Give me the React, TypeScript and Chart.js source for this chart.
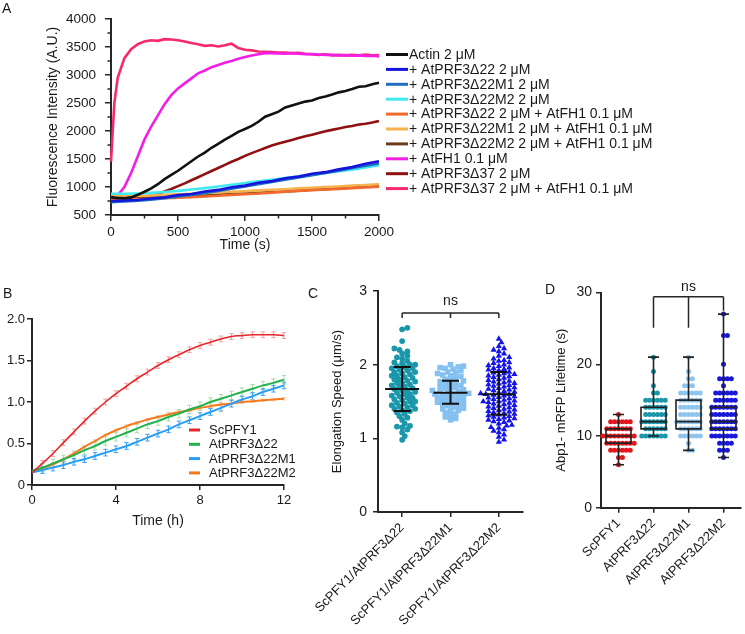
import React, { useEffect, useRef } from 'react';
import { Chart, registerables } from 'chart.js';

Chart.register(...registerables);

const FONT = '"Liberation Sans", Arial, Helvetica, sans-serif';
const AXIS = '#262626';
const TEXT = '#1a1a1a';
Chart.defaults.font.family = FONT;
Chart.defaults.color = TEXT;

// ================= Panel A data =================
const timeFineA = [0, 25, 50, 100, 150, 200, 250, 300, 350, 400, 450, 500, 550, 600, 650, 700, 750, 800, 850, 900, 950, 1000, 1050, 1100, 1150, 1200, 1250, 1300, 1350, 1400, 1450, 1500, 1550, 1600, 1650, 1700, 1750, 1800, 1850, 1900, 1950, 2000];
const timeCoarseA = [0, 100, 200, 300, 400, 500, 600, 700, 800, 900, 1000, 1100, 1200, 1300, 1400, 1500, 1600, 1700, 1800, 1900, 2000];

const actin = [820, 810, 805, 800, 815, 860, 915, 975, 1050, 1140, 1215, 1290, 1375, 1460, 1545, 1615, 1700, 1770, 1845, 1915, 1985, 2035, 2090, 2165, 2255, 2300, 2345, 2420, 2455, 2490, 2525, 2545, 2590, 2615, 2650, 2690, 2715, 2750, 2790, 2800, 2835, 2860];
const prfD22 = [750, 760, 768, 795, 815, 855, 876, 920, 948, 995, 1025, 1075, 1105, 1155, 1185, 1238, 1265, 1315, 1355, 1415, 1460];
const prfD22M1 = [730, 740, 755, 775, 800, 830, 860, 895, 930, 970, 1010, 1050, 1090, 1130, 1170, 1210, 1250, 1290, 1340, 1380, 1420];
const prfD22M2 = [880, 880, 885, 895, 910, 930, 955, 980, 1010, 1040, 1070, 1100, 1130, 1160, 1190, 1220, 1250, 1280, 1310, 1350, 1390];
const prfD22FH1 = [770, 775, 780, 790, 800, 810, 820, 830, 845, 860, 870, 885, 900, 915, 930, 945, 955, 965, 980, 990, 1005];
const prfD22M1FH1 = [840, 835, 840, 850, 860, 870, 880, 890, 905, 915, 925, 940, 950, 960, 975, 985, 1000, 1010, 1025, 1035, 1050];
const prfD22M2FH1 = [800, 795, 800, 810, 820, 830, 840, 850, 860, 875, 885, 895, 910, 920, 935, 950, 960, 975, 990, 1010, 1030];
const fh1Only = [800, 810, 850, 1000, 1250, 1550, 1850, 2080, 2280, 2480, 2640, 2760, 2850, 2940, 3030, 3080, 3140, 3180, 3220, 3250, 3290, 3320, 3350, 3370, 3390, 3390, 3385, 3380, 3390, 3380, 3370, 3375, 3365, 3360, 3360, 3350, 3355, 3345, 3350, 3340, 3345, 3330];
const prfD37 = [780, 780, 775, 780, 785, 795, 815, 845, 880, 920, 965, 1015, 1065, 1120, 1175, 1230, 1285, 1340, 1395, 1450, 1500, 1555, 1605, 1650, 1695, 1740, 1775, 1810, 1840, 1875, 1905, 1935, 1965, 1995, 2020, 2045, 2070, 2090, 2115, 2130, 2150, 2180];
const prfD37FH1 = [1450, 2500, 2950, 3300, 3460, 3550, 3600, 3620, 3610, 3640, 3635, 3620, 3600, 3570, 3550, 3520, 3530, 3510, 3530, 3560, 3480, 3450, 3440, 3420, 3415, 3410, 3400, 3400, 3390, 3395, 3380, 3370, 3360, 3370, 3350, 3360, 3350, 3360, 3350, 3365, 3350, 3355];

const labelsA = [
  'Actin 2 μM',
  '+ AtPRF3Δ22 2 μM',
  '+ AtPRF3Δ22M1 2 μM',
  '+ AtPRF3Δ22M2 2 μM',
  '+ AtPRF3Δ22 2 μM + AtFH1 0.1 μM',
  '+ AtPRF3Δ22M1 2 μM + AtFH1 0.1 μM',
  '+ AtPRF3Δ22M2 2 μM + AtFH1 0.1 μM',
  '+ AtFH1 0.1 μM',
  '+ AtPRF3Δ37 2 μM',
  '+ AtPRF3Δ37 2 μM + AtFH1 0.1 μM',
];
const colorsA = ['#111111', '#1414dc', '#1f6fbf', '#40eaf0', '#f26a2e', '#f6b24c', '#6b3b1b', '#f21ee6', '#8e1010', '#f7286f'];
const valuesA = [actin, prfD22, prfD22M1, prfD22M2, prfD22FH1, prfD22M1FH1, prfD22M2FH1, fh1Only, prfD37, prfD37FH1];
const timesA = [timeFineA, timeCoarseA, timeCoarseA, timeCoarseA, timeCoarseA, timeCoarseA, timeCoarseA, timeFineA, timeFineA, timeFineA];
const xTicksA = [0, 500, 1000, 1500, 2000];
const yTicksA = [500, 1000, 1500, 2000, 2500, 3000, 3500, 4000];

// ================= Panel B data =================
const timeB = [0, 0.5, 1, 1.5, 2, 2.5, 3, 3.5, 4, 4.5, 5, 5.5, 6, 6.5, 7, 7.5, 8, 8.5, 9, 9.5, 10, 10.5, 11, 11.5, 12];
const scPFY1B = [0.15, 0.26, 0.38, 0.51, 0.64, 0.77, 0.89, 1.0, 1.1, 1.19, 1.28, 1.36, 1.44, 1.51, 1.57, 1.63, 1.68, 1.72, 1.76, 1.79, 1.8, 1.81, 1.81, 1.81, 1.8];
const d22B = [0.17, 0.21, 0.26, 0.31, 0.36, 0.42, 0.47, 0.53, 0.58, 0.63, 0.68, 0.73, 0.77, 0.82, 0.86, 0.91, 0.95, 1.0, 1.04, 1.08, 1.12, 1.16, 1.2, 1.23, 1.27];
const d22M1B = [0.15, 0.18, 0.21, 0.24, 0.28, 0.31, 0.35, 0.39, 0.43, 0.47, 0.52, 0.57, 0.62, 0.67, 0.73, 0.78, 0.83, 0.88, 0.93, 0.98, 1.03, 1.07, 1.12, 1.16, 1.2];
const d22M2B = [0.15, 0.2, 0.25, 0.31, 0.38, 0.46, 0.53, 0.6, 0.66, 0.71, 0.75, 0.79, 0.82, 0.85, 0.88, 0.9, 0.93, 0.95, 0.97, 0.98, 1.0, 1.01, 1.02, 1.03, 1.04];
const errB = [0.035, 0.05, 0.04, 0.015];
const labelsB = ['ScPFY1', 'AtPRF3Δ22', 'AtPRF3Δ22M1', 'AtPRF3Δ22M2'];
const colorsB = ['#e8262a', '#22b24c', '#2a9df4', '#f47a20'];
const errColorsB = ['#f4a0a0', '#a6dca6', '#3a9ff0', '#f9cfa6'];
const seriesB = [scPFY1B, d22B, d22M1B, d22M2B];

// ================= Panel C data =================
const catsC = ['ScPFY1/AtPRF3Δ22', 'ScPFY1/AtPRF3Δ22M1', 'ScPFY1/AtPRF3Δ22M2'];
const speedD22 = [2.5, 2.48, 2.32, 2.22, 2.2, 2.18, 2.15, 2.12, 2.1, 2.08, 2.05, 2.03, 2.02, 2.0, 2.0, 1.98, 1.97, 1.95, 1.95, 1.93, 1.92, 1.9, 1.9, 1.88, 1.87, 1.85, 1.85, 1.83, 1.82, 1.8, 1.8, 1.78, 1.77, 1.75, 1.75, 1.73, 1.72, 1.7, 1.7, 1.68, 1.67, 1.65, 1.65, 1.63, 1.62, 1.6, 1.6, 1.58, 1.57, 1.55, 1.55, 1.53, 1.52, 1.5, 1.5, 1.48, 1.47, 1.45, 1.45, 1.43, 1.42, 1.4, 1.4, 1.38, 1.37, 1.35, 1.33, 1.3, 1.28, 1.25, 1.2, 1.17, 1.16, 1.15, 1.12, 1.08, 1.03, 0.98];
const speedD22M1 = [2.0, 1.98, 1.97, 1.96, 1.95, 1.94, 1.92, 1.9, 1.89, 1.88, 1.86, 1.85, 1.84, 1.82, 1.8, 1.79, 1.78, 1.77, 1.75, 1.74, 1.73, 1.72, 1.7, 1.69, 1.68, 1.67, 1.66, 1.65, 1.64, 1.63, 1.62, 1.61, 1.6, 1.6, 1.59, 1.58, 1.57, 1.56, 1.55, 1.54, 1.53, 1.52, 1.51, 1.5, 1.49, 1.48, 1.47, 1.46, 1.45, 1.44, 1.42, 1.41, 1.4, 1.38, 1.37, 1.35, 1.33, 1.31, 1.29, 1.27, 1.25];
const speedD22M2 = [2.35, 2.3, 2.25, 2.22, 2.2, 2.18, 2.15, 2.12, 2.1, 2.08, 2.06, 2.05, 2.03, 2.02, 2.0, 1.99, 1.98, 1.96, 1.95, 1.94, 1.93, 1.92, 1.9, 1.89, 1.88, 1.87, 1.86, 1.85, 1.84, 1.83, 1.82, 1.8, 1.79, 1.78, 1.77, 1.76, 1.75, 1.74, 1.73, 1.72, 1.71, 1.7, 1.69, 1.68, 1.67, 1.66, 1.65, 1.64, 1.63, 1.62, 1.61, 1.6, 1.6, 1.59, 1.58, 1.57, 1.56, 1.55, 1.54, 1.53, 1.52, 1.51, 1.5, 1.5, 1.49, 1.48, 1.47, 1.46, 1.45, 1.44, 1.43, 1.42, 1.41, 1.4, 1.39, 1.38, 1.37, 1.36, 1.35, 1.34, 1.33, 1.32, 1.31, 1.3, 1.29, 1.28, 1.27, 1.26, 1.25, 1.24, 1.23, 1.22, 1.2, 1.18, 1.17, 1.15, 1.14, 1.12, 1.1, 1.08, 1.05, 1.02, 0.98, 0.95];
const meanC = [1.67, 1.62, 1.6];
const sdLowC = [1.37, 1.47, 1.32];
const sdHighC = [1.97, 1.78, 1.9];
const colorsC = ['#1a97aa', '#85c1f0', '#1515e6'];
const stylesC = ['circle', 'rect', 'triangle'];
const radiiC = [2.9, 3.9, 3.6];
const yTicksC = [0, 1, 2, 3];

// ================= Panel D data =================
const catsD = ['ScPFY1', 'AtPRF3Δ22', 'AtPRF3Δ22M1', 'AtPRF3Δ22M2'];
const secondsD = [6, 7, 8, 9, 10, 11, 12, 13, 14, 15, 16, 17, 18, 19, 20, 21, 22, 23, 24, 25, 26, 27];
const countsScPFY1 = [1, 2, 6, 8, 9, 7, 6, 1, 0, 0, 0, 0, 0, 0, 0, 0, 0, 0, 0, 0, 0, 0];
const countsD22 = [0, 0, 0, 0, 7, 6, 7, 6, 6, 6, 2, 1, 0, 1, 0, 1, 0, 0, 0, 0, 0, 0];
const countsD22M1 = [0, 0, 2, 1, 6, 6, 7, 6, 6, 6, 6, 3, 2, 1, 0, 1, 0, 0, 0, 0, 0, 0];
const countsD22M2 = [0, 1, 3, 4, 7, 7, 7, 7, 7, 6, 6, 1, 4, 0, 1, 0, 0, 0, 2, 0, 0, 1];
const boxMinD = [6, 10, 8, 7];
const boxQ1D = [9, 11, 11, 11];
const boxMedD = [10, 12, 12, 12];
const boxQ3D = [11, 14, 15, 14];
const boxMaxD = [13, 21, 21, 27];
const colorsD = ['#e3151d', '#1a97aa', '#8cc5f0', '#1818d8'];
const yTicksD = [0, 10, 20, 30];

// ================= helpers =================
function axisBase(size: number, pad: number, tickLen = 5) {
  return {
    grid: { display: true, drawOnChartArea: false, drawTicks: true, tickLength: tickLen, color: AXIS, lineWidth: 1.5 },
    border: { display: true, color: AXIS, width: 2 },
    ticks: { color: TEXT, font: { family: FONT, size }, padding: pad, callback: (v: number) => String(v) },
  };
}

function swarmOffsets(values: number[], pxPerY: number, diam: number, minDistFactor: number): number[] {
  const order = values.map((_, i) => i).sort((a, b) => values[a] - values[b]);
  const placed: { x: number; y: number }[] = [];
  const out = new Array(values.length).fill(0);
  const minD2 = (diam * minDistFactor) ** 2;
  for (const i of order) {
    const y = values[i] * pxPerY;
    let chosen = 0;
    for (let k = 0; k < 400; k++) {
      const cand = k === 0 ? 0 : (k % 2 === 1 ? 1 : -1) * Math.ceil(k / 2) * diam * 0.5;
      let ok = true;
      for (const p of placed) {
        const dx = p.x - cand;
        const dy = p.y - y;
        if (dx * dx + dy * dy < minD2) { ok = false; break; }
      }
      if (ok) { chosen = cand; break; }
    }
    placed.push({ x: chosen, y });
    out[i] = chosen;
  }
  return out;
}

function expandCounts(counts: number[]): number[] {
  const out: number[] = [];
  counts.forEach((c, i) => { for (let k = 0; k < c; k++) out.push(secondsD[i]); });
  return out;
}

function legendPlugin(id: string, labels: string[], colors: string[], g: any) {
  return {
    id,
    afterDraw(chart: any) {
      const ctx = chart.ctx;
      ctx.save();
      ctx.font = `${g.font}px ${FONT}`;
      ctx.textBaseline = 'middle';
      ctx.textAlign = 'left';
      labels.forEach((lab, i) => {
        const y = g.y0 + i * g.dy;
        ctx.strokeStyle = colors[i];
        ctx.lineWidth = g.lw;
        ctx.lineCap = 'butt';
        ctx.beginPath();
        ctx.moveTo(g.x0, y);
        ctx.lineTo(g.x1, y);
        ctx.stroke();
        ctx.fillStyle = TEXT;
        ctx.fillText(lab, g.tx, y + 0.5);
      });
      ctx.restore();
    },
  };
}

function bracketPlugin(id: string, cats: number[], yLine: number, drops: number[], textY: number) {
  return {
    id,
    afterDraw(chart: any) {
      const { ctx } = chart;
      const x = chart.scales.x;
      ctx.save();
      ctx.strokeStyle = AXIS;
      ctx.lineWidth = 1.5;
      ctx.beginPath();
      const x0 = x.getPixelForValue(cats[0]);
      const x1 = x.getPixelForValue(cats[cats.length - 1]);
      ctx.moveTo(x0, yLine);
      ctx.lineTo(x1, yLine);
      cats.forEach((c, i) => {
        const px = x.getPixelForValue(c);
        ctx.moveTo(px, yLine);
        ctx.lineTo(px, yLine + drops[i]);
      });
      ctx.stroke();
      ctx.fillStyle = TEXT;
      ctx.font = `14px ${FONT}`;
      ctx.textAlign = 'center';
      ctx.textBaseline = 'middle';
      ctx.fillText('ns', (x0 + x1) / 2, textY);
      ctx.restore();
    },
  };
}

// ================= configs =================
function configA(): any {
  const datasets = valuesA.map((vals, i) => ({
    label: labelsA[i],
    data: vals.map((v, j) => ({ x: timesA[i][j], y: v })),
    borderColor: colorsA[i],
    backgroundColor: colorsA[i],
    borderWidth: 2.6,
    pointRadius: 0,
    tension: 0,
    fill: false,
    clip: false,
  }));
  const minorTicks = {
    id: 'minorA',
    afterDraw(chart: any) {
      const { ctx, chartArea: ca } = chart;
      const x = chart.scales.x;
      const y = chart.scales.y;
      ctx.save();
      ctx.strokeStyle = AXIS;
      ctx.lineWidth = 1.5;
      ctx.beginPath();
      for (let k = 0; k < xTicksA.length - 1; k++) {
        const px = x.getPixelForValue((xTicksA[k] + xTicksA[k + 1]) / 2);
        ctx.moveTo(px, ca.bottom);
        ctx.lineTo(px, ca.bottom + 3.5);
      }
      for (let k = 0; k < yTicksA.length - 1; k++) {
        const py = y.getPixelForValue((yTicksA[k] + yTicksA[k + 1]) / 2);
        ctx.moveTo(ca.left, py);
        ctx.lineTo(ca.left - 3.5, py);
      }
      ctx.stroke();
      ctx.restore();
    },
  };
  const xb = axisBase(13.5, 3, 6);
  const yb = axisBase(13.5, 9, 6);
  return {
    type: 'line',
    data: { datasets },
    options: {
      animation: false,
      responsive: false,
      maintainAspectRatio: false,
      layout: { padding: { left: 0, top: 19, right: 366, bottom: 0 } },
      plugins: { legend: { display: false }, tooltip: { enabled: false } },
      scales: {
        x: {
          type: 'linear', min: 0, max: 2000,
          ...xb,
          afterBuildTicks: (s: any) => { s.ticks = xTicksA.map((v) => ({ value: v })); },
          title: { display: true, text: 'Time (s)', color: TEXT, font: { family: FONT, size: 14 }, padding: { top: 0, bottom: 16 } },
          afterFit: (s: any) => { s.height = 55; s.paddingLeft = 0; s.paddingRight = 0; },
        },
        y: {
          type: 'linear', min: 500, max: 4000,
          ...yb,
          afterBuildTicks: (s: any) => { s.ticks = yTicksA.map((v) => ({ value: v })); },
          title: { display: true, text: 'Fluorescence Intensity (A.U.)', color: TEXT, font: { family: FONT, size: 14 }, padding: { top: 45, bottom: 0 } },
          afterFit: (s: any) => { s.width = 111; s.paddingTop = 0; s.paddingBottom = 0; },
        },
      },
    },
    plugins: [minorTicks, legendPlugin('legA', labelsA, colorsA, { x0: 386, x1: 408, tx: 409, y0: 54.5, dy: 14.9, font: 14, lw: 3 })],
  };
}

function configB(): any {
  const datasets = seriesB.map((vals, i) => ({
    label: labelsB[i],
    data: vals.map((v, j) => ({ x: timeB[j], y: v })),
    borderColor: colorsB[i],
    borderWidth: i === 0 ? 1.6 : 2,
    pointRadius: 0,
    cubicInterpolationMode: 'monotone',
    fill: false,
    clip: false,
  }));
  const errorBars = {
    id: 'errB',
    beforeDatasetsDraw(chart: any) {
      const { ctx } = chart;
      const x = chart.scales.x;
      const y = chart.scales.y;
      ctx.save();
      ctx.lineWidth = 1;
      seriesB.forEach((vals, si) => {
        const e = errB[si];
        ctx.strokeStyle = errColorsB[si];
        ctx.beginPath();
        vals.forEach((v, i) => {
          if (i === 0) return;
          const px = x.getPixelForValue(timeB[i]);
          const top = y.getPixelForValue(v + e);
          const bot = y.getPixelForValue(v - e);
          ctx.moveTo(px, top); ctx.lineTo(px, bot);
          ctx.moveTo(px - 2.2, top); ctx.lineTo(px + 2.2, top);
          ctx.moveTo(px - 2.2, bot); ctx.lineTo(px + 2.2, bot);
        });
        ctx.stroke();
      });
      ctx.restore();
    },
  };
  return {
    type: 'line',
    data: { datasets },
    options: {
      animation: false,
      responsive: false,
      maintainAspectRatio: false,
      layout: { padding: { left: 0, top: 29, right: 16, bottom: 0 } },
      plugins: { legend: { display: false }, tooltip: { enabled: false } },
      scales: {
        x: {
          type: 'linear', min: 0, max: 12,
          ...axisBase(13, 3),
          afterBuildTicks: (s: any) => { s.ticks = [0, 4, 8, 12].map((v) => ({ value: v })); },
          title: { display: true, text: 'Time (h)', color: TEXT, font: { family: FONT, size: 14 }, padding: { top: 0, bottom: 10 } },
          afterFit: (s: any) => { s.height = 55; s.paddingLeft = 0; s.paddingRight = 0; },
        },
        y: {
          type: 'linear', min: 0, max: 2,
          ...axisBase(13, 2),
          afterBuildTicks: (s: any) => { s.ticks = [0, 0.5, 1, 1.5, 2].map((v) => ({ value: v })); },
          ticks: { color: TEXT, font: { family: FONT, size: 13 }, padding: 2, callback: (v: number) => (v === 0 ? '0' : v.toFixed(1)) },
          afterFit: (s: any) => { s.width = 32; s.paddingTop = 0; s.paddingBottom = 0; },
        },
      },
    },
    plugins: [errorBars, legendPlugin('legB', labelsB, colorsB, { x0: 189, x1: 200, tx: 209, y0: 140, dy: 14.3, font: 13, lw: 3 })],
  };
}

function configC(): any {
  const plotW = 145;
  const plotH = 221;
  const cats = [speedD22, speedD22M1, speedD22M2];
  const datasets = cats.map((vals, ci) => {
    const offs = swarmOffsets(vals, plotH / 3, 5.2, ci === 2 ? 0.8 : 0.85);
    return {
      label: catsC[ci],
      data: vals.map((v, i) => ({ x: ci + offs[i] / (plotW / 3), y: v })),
      pointStyle: stylesC[ci],
      pointRadius: radiiC[ci],
      backgroundColor: colorsC[ci],
      borderWidth: 0,
      clip: false,
    };
  });
  const meanSd = {
    id: 'meanSd',
    afterDatasetsDraw(chart: any) {
      const { ctx } = chart;
      const x = chart.scales.x;
      const y = chart.scales.y;
      ctx.save();
      ctx.strokeStyle = '#111';
      ctx.lineWidth = 2;
      ctx.beginPath();
      meanC.forEach((m, i) => {
        const cx = x.getPixelForValue(i);
        const ym = y.getPixelForValue(m);
        const yl = y.getPixelForValue(sdLowC[i]);
        const yh = y.getPixelForValue(sdHighC[i]);
        ctx.moveTo(cx - 17, ym); ctx.lineTo(cx + 17, ym);
        ctx.moveTo(cx, yl); ctx.lineTo(cx, yh);
        ctx.moveTo(cx - 8.5, yl); ctx.lineTo(cx + 8.5, yl);
        ctx.moveTo(cx - 8.5, yh); ctx.lineTo(cx + 8.5, yh);
      });
      ctx.stroke();
      ctx.restore();
    },
  };
  return {
    type: 'scatter',
    data: { datasets },
    options: {
      animation: false,
      responsive: false,
      maintainAspectRatio: false,
      layout: { padding: { left: 0, top: 11, right: 7, bottom: 0 } },
      plugins: { legend: { display: false }, tooltip: { enabled: false } },
      scales: {
        x: {
          type: 'linear', min: -0.5, max: 2.5,
          ...axisBase(13, 3),
          afterBuildTicks: (s: any) => { s.ticks = catsC.map((_, i) => ({ value: i })); },
          ticks: { color: TEXT, font: { family: FONT, size: 13 }, padding: 3, autoSkip: false, minRotation: 45, maxRotation: 45, callback: (v: number) => catsC[Math.round(v)] },
          afterFit: (s: any) => { s.height = 122; s.paddingLeft = 0; s.paddingRight = 0; },
        },
        y: {
          type: 'linear', min: 0, max: 3,
          ...axisBase(14, 6),
          afterBuildTicks: (s: any) => { s.ticks = yTicksC.map((v) => ({ value: v })); },
          title: { display: true, text: 'Elongation Speed (μm/s)', color: TEXT, font: { family: FONT, size: 13 }, padding: { top: 30, bottom: 0 } },
          afterFit: (s: any) => { s.width = 78; s.paddingTop = 0; s.paddingBottom = 0; },
        },
      },
    },
    plugins: [meanSd, bracketPlugin('brC', [0, 1, 2], 33, [5, 5, 5], 21)],
  };
}

function configD(): any {
  const plotW = 143;
  const plotH = 215;
  const cats = [countsScPFY1, countsD22, countsD22M1, countsD22M2].map(expandCounts);
  const datasets = cats.map((vals, ci) => {
    const offs = swarmOffsets(vals, plotH / 30, 4, 1);
    return {
      label: catsD[ci],
      data: vals.map((v, i) => ({ x: ci + offs[i] / (plotW / 4), y: v })),
      pointStyle: 'circle',
      pointRadius: 2.5,
      backgroundColor: colorsD[ci],
      borderWidth: 0,
      clip: false,
    };
  });
  const boxes = {
    id: 'boxD',
    afterDatasetsDraw(chart: any) {
      const { ctx } = chart;
      const x = chart.scales.x;
      const y = chart.scales.y;
      ctx.save();
      ctx.strokeStyle = '#222';
      ctx.lineWidth = 1.6;
      catsD.forEach((_, i) => {
        const cx = x.getPixelForValue(i);
        const yMin = y.getPixelForValue(boxMinD[i]);
        const yQ1 = y.getPixelForValue(boxQ1D[i]);
        const yMed = y.getPixelForValue(boxMedD[i]);
        const yQ3 = y.getPixelForValue(boxQ3D[i]);
        const yMax = y.getPixelForValue(boxMaxD[i]);
        ctx.beginPath();
        ctx.rect(cx - 12.5, yQ3, 25, yQ1 - yQ3);
        ctx.moveTo(cx - 12.5, yMed); ctx.lineTo(cx + 12.5, yMed);
        ctx.moveTo(cx, yQ3); ctx.lineTo(cx, yMax);
        ctx.moveTo(cx, yQ1); ctx.lineTo(cx, yMin);
        ctx.moveTo(cx - 5.5, yMax); ctx.lineTo(cx + 5.5, yMax);
        ctx.moveTo(cx - 5.5, yMin); ctx.lineTo(cx + 5.5, yMin);
        ctx.stroke();
      });
      ctx.restore();
    },
  };
  return {
    type: 'scatter',
    data: { datasets },
    options: {
      animation: false,
      responsive: false,
      maintainAspectRatio: false,
      layout: { padding: { left: 0, top: 12.6, right: 1, bottom: 0 } },
      plugins: { legend: { display: false }, tooltip: { enabled: false } },
      scales: {
        x: {
          type: 'linear', min: -0.5, max: 3.5,
          ...axisBase(13, 3),
          afterBuildTicks: (s: any) => { s.ticks = catsD.map((_, i) => ({ value: i })); },
          ticks: { color: TEXT, font: { family: FONT, size: 13 }, padding: 3, autoSkip: false, minRotation: 45, maxRotation: 45, callback: (v: number) => catsD[Math.round(v)] },
          afterFit: (s: any) => { s.height = 126.3; s.paddingLeft = 0; s.paddingRight = 0; },
        },
        y: {
          type: 'linear', min: 0, max: 30,
          ...axisBase(14, 4),
          afterBuildTicks: (s: any) => { s.ticks = yTicksD.map((v) => ({ value: v })); },
          title: { display: true, text: 'Abp1- mRFP Lifetime (s)', color: TEXT, font: { family: FONT, size: 13 }, padding: { top: 24, bottom: 0 } },
          afterFit: (s: any) => { s.width = 71; s.paddingTop = 0; s.paddingBottom = 0; },
        },
      },
    },
    plugins: [boxes, bracketPlugin('brD', [1, 2, 3], 16.7, [31, 31, 14], 7)],
  };
}

const letterStyle = (left: number, top: number): React.CSSProperties => ({
  position: 'absolute', left, top, fontSize: 14, lineHeight: '14px', fontFamily: FONT, color: TEXT,
});

export default function App() {
  const refA = useRef<HTMLCanvasElement>(null);
  const refB = useRef<HTMLCanvasElement>(null);
  const refC = useRef<HTMLCanvasElement>(null);
  const refD = useRef<HTMLCanvasElement>(null);

  useEffect(() => {
    const charts = [
      new Chart(refA.current as HTMLCanvasElement, configA()),
      new Chart(refB.current as HTMLCanvasElement, configB()),
      new Chart(refC.current as HTMLCanvasElement, configC()),
      new Chart(refD.current as HTMLCanvasElement, configD()),
    ];
    return () => charts.forEach((c) => c.destroy());
  }, []);

  return (
    <div style={{ position: 'fixed', left: 0, top: 0, width: 745, height: 634, background: '#fff', overflow: 'hidden' }}>
      <canvas ref={refA} width={745} height={270} style={{ position: 'absolute', left: 0, top: 0, width: 745, height: 270 }} />
      <canvas ref={refB} width={300} height={250} style={{ position: 'absolute', left: 0, top: 290, width: 300, height: 250 }} />
      <canvas ref={refC} width={230} height={354} style={{ position: 'absolute', left: 300, top: 280, width: 230, height: 354 }} />
      <canvas ref={refD} width={215} height={354} style={{ position: 'absolute', left: 530, top: 280, width: 215, height: 354 }} />
      <span style={letterStyle(2, 1)}>A</span>
      <span style={letterStyle(3, 286)}>B</span>
      <span style={letterStyle(308, 286)}>C</span>
      <span style={letterStyle(545, 282)}>D</span>
    </div>
  );
}
